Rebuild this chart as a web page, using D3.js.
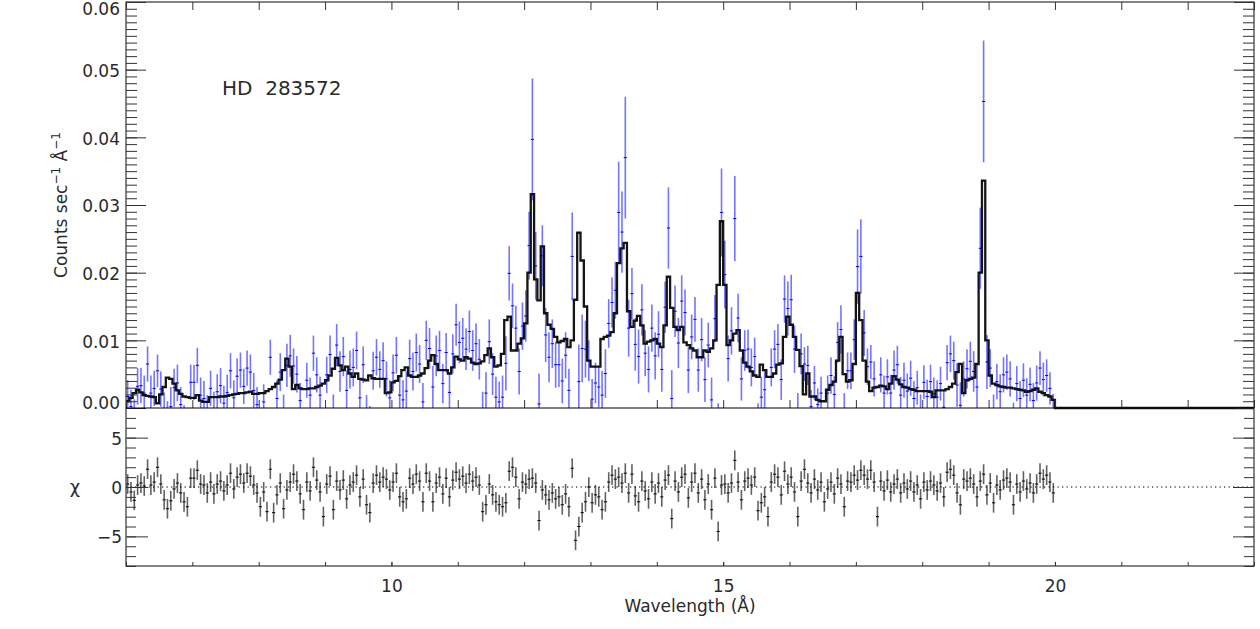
<!DOCTYPE html>
<html>
<head>
<meta charset="utf-8">
<script src="https://cdn.jsdelivr.net/npm/d3@7"></script>
<style>
  html, body { margin: 0; padding: 0; background: #fff; }
  svg text { font-family: "DejaVu Sans", sans-serif; fill: #2a2a2a; }
</style>
</head>
<body>
<svg id="chart" width="1260" height="629"></svg>
<script>
// ---------------- DATA ----------------
// wavelength bin centres (Angstrom)
const wavelength = [
 6.025,6.075,6.125,6.175,6.225,6.275,6.325,6.375,6.425,6.475,6.525,6.575,6.625,6.675,6.725,6.775,6.825,6.875,6.925,6.975,
 7.025,7.075,7.125,7.175,7.225,7.275,7.325,7.375,7.425,7.475,7.525,7.575,7.625,7.675,7.725,7.775,7.825,7.875,7.925,7.975,
 8.025,8.075,8.125,8.175,8.225,8.275,8.325,8.375,8.425,8.475,8.525,8.575,8.625,8.675,8.725,8.775,8.825,8.875,8.925,8.975,
 9.025,9.075,9.125,9.175,9.225,9.275,9.325,9.375,9.425,9.475,9.525,9.575,9.625,9.675,9.725,9.775,9.825,9.875,9.925,9.975,
 10.025,10.075,10.125,10.175,10.225,10.275,10.325,10.375,10.425,10.475,10.525,10.575,10.625,10.675,10.725,10.775,10.825,10.875,10.925,10.975,
 11.025,11.075,11.125,11.175,11.225,11.275,11.325,11.375,11.425,11.475,11.525,11.575,11.625,11.675,11.725,11.775,11.825,11.875,11.925,11.975,
 12.025,12.075,12.125,12.175,12.225,12.275,12.325,12.375,12.425,12.475,12.525,12.575,12.625,12.675,12.725,12.775,12.825,12.875,12.925,12.975,
 13.025,13.075,13.125,13.175,13.225,13.275,13.325,13.375,13.425,13.475,13.525,13.575,13.625,13.675,13.725,13.775,13.825,13.875,13.925,13.975,
 14.025,14.075,14.125,14.175,14.225,14.275,14.325,14.375,14.425,14.475,14.525,14.575,14.625,14.675,14.725,14.775,14.825,14.875,14.925,14.975,
 15.025,15.075,15.125,15.175,15.225,15.275,15.325,15.375,15.425,15.475,15.525,15.575,15.625,15.675,15.725,15.775,15.825,15.875,15.925,15.975,
 16.025,16.075,16.125,16.175,16.225,16.275,16.325,16.375,16.425,16.475,16.525,16.575,16.625,16.675,16.725,16.775,16.825,16.875,16.925,16.975,
 17.025,17.075,17.125,17.175,17.225,17.275,17.325,17.375,17.425,17.475,17.525,17.575,17.625,17.675,17.725,17.775,17.825,17.875,17.925,17.975,
 18.025,18.075,18.125,18.175,18.225,18.275,18.325,18.375,18.425,18.475,18.525,18.575,18.625,18.675,18.725,18.775,18.825,18.875,18.925,18.975,
 19.025,19.075,19.125,19.175,19.225,19.275,19.325,19.375,19.425,19.475,19.525,19.575,19.625,19.675,19.725,19.775,19.825,19.875,19.925,19.975
];

// observed flux, in units of 1e-3 counts s^-1 A^-1
const flux = [
 1.7,0.2,-1.3,3.2,3.3,2.2,6.5,2.2,2.9,5.5,2.8,-0.4,-1.9,0.2,3.0,3.7,0.5,-2.2,-3.6,3.8,
 3.8,6.3,1.9,1.4,-0.7,2.9,-0.2,2.4,3.3,0.7,2.3,5.5,1.5,4.7,5.6,3.2,5.9,5.3,2.6,0.5,
 -3.0,0.9,-4.0,7.5,-3.9,1.4,5.3,-1.0,6.3,7.7,6.2,5.0,1.1,-3.2,4.1,1.9,8.1,4.9,1.9,-4.5,
 4.9,7.9,-0.9,9.3,5.4,7.6,2.6,5.7,6.0,8.5,1.5,6.4,-0.8,-2.5,5.5,7.5,5.7,7.0,4.3,1.5,
 5.2,7.8,1.9,1.2,2.5,7.3,5.4,8.2,6.5,0.9,10.0,8.8,3.1,7.7,8.5,3.6,8.2,2.3,8.0,12.3,
 9.7,10.3,8.7,11.3,8.5,9.5,7.2,-0.6,2.2,9.8,5.0,1.6,0.9,1.6,6.6,19.9,15.1,11.8,5.4,12.1,
 13.6,24.0,39.7,21.0,0.6,22.5,10.8,7.5,9.5,6.4,6.4,4.0,7.8,2.6,22.4,-6.7,3.9,8.8,8.7,7.0,
 1.3,3.7,3.1,1.9,5.1,12.5,15.6,17.4,28.9,26.0,37.0,11.8,16.9,9.4,7.6,14.5,8.1,5.7,11.8,7.7,
 10.9,5.7,14.9,26.6,1.4,14.3,9.6,15.8,14.1,5.6,10.5,13.1,5.6,10.1,4.2,9.3,1.2,13.2,-4.3,28.9,
 19.7,7.3,11.4,28.0,13.3,4.3,8.5,8.7,6.0,7.6,-2.1,1.6,2.7,-3.8,6.0,8.7,9.4,4.2,16.1,14.7,
 16.0,8.7,-1.0,8.0,6.5,6.3,0.2,3.7,0.5,2.2,-2.6,2.2,4.8,2.0,9.7,11.6,-0.6,5.5,5.5,10.1,
 20.9,22.4,11.1,6.1,6.8,4.3,-4.7,4.9,2.2,4.6,2.2,5.6,6.4,1.9,4.1,2.5,4.4,1.4,3.0,-0.5,
 3.8,1.7,3.9,2.1,1.6,3.6,0.1,6.7,8.0,7.0,3.4,0.4,4.3,5.8,6.9,5.4,3.1,23.6,45.3,6.8,
 5.9,-0.7,3.9,2.4,4.9,5.3,4.3,-1.8,3.6,1.4,4.1,1.9,3.5,1.1,3.7,5.9,4.2,4.8,2.9,-0.2
];

// 1-sigma flux error, same units
const fluxErr = [
 2.4,2.5,2.6,2.7,2.6,2.6,2.6,2.6,2.6,2.4,2.6,2.7,2.9,2.9,2.8,2.7,2.6,2.6,2.6,2.6,
 2.6,2.6,2.6,2.6,2.6,2.6,2.6,2.6,2.6,2.6,2.6,2.6,2.6,2.6,2.6,2.6,2.6,2.6,2.6,2.6,
 2.6,2.6,2.6,2.6,2.7,2.7,2.8,3.0,3.2,3.1,2.6,2.7,2.6,2.6,2.6,2.6,2.6,2.6,2.7,2.7,
 2.7,2.8,2.9,3.1,3.0,2.9,2.9,2.8,2.8,2.8,2.8,2.7,2.7,2.8,2.8,2.7,2.7,2.7,2.6,2.6,
 2.7,2.7,2.8,2.9,2.9,2.8,2.8,2.8,2.8,2.8,2.9,3.0,3.1,3.0,2.9,2.9,2.9,2.8,2.9,3.1,
 3.1,3.0,3.1,3.1,3.0,3.0,3.0,3.0,3.1,3.3,3.1,3.0,3.0,3.2,4.0,4.0,3.3,3.3,3.4,3.5,
 3.8,5.0,9.0,5.0,4.5,4.5,4.0,3.7,3.6,3.4,3.3,3.3,3.4,3.2,6.5,4.2,5.5,5.0,4.2,3.0,
 3.0,3.0,3.0,3.6,3.6,3.6,3.7,4.2,7.5,6.0,9.0,4.2,3.8,3.9,4.0,3.8,3.4,3.4,3.5,3.5,
 3.4,3.3,3.8,6.0,4.2,3.8,3.7,3.8,3.4,3.4,3.3,3.3,3.2,3.2,3.3,3.3,3.3,3.5,5.0,6.5,
 5.0,3.4,3.5,6.3,3.6,3.2,3.0,2.9,2.8,2.8,2.8,3.0,2.9,2.8,2.8,2.8,3.0,3.0,3.5,4.0,
 3.7,3.5,3.2,3.0,2.5,2.9,2.5,2.5,2.4,2.4,2.4,2.6,2.7,2.7,3.0,3.6,2.8,2.7,2.7,3.0,
 5.5,5.5,3.4,2.7,2.5,2.6,2.6,2.6,2.6,2.6,2.7,2.9,2.8,2.7,2.6,2.6,2.6,2.6,2.5,2.5,
 2.5,2.5,2.5,2.4,2.5,2.5,2.5,2.6,2.7,2.8,3.2,3.4,2.6,2.9,2.9,3.0,3.4,6.0,9.0,4.0,
 2.8,2.7,2.6,2.6,2.6,2.6,2.6,2.6,2.6,2.6,2.5,2.5,2.5,2.6,2.6,2.5,2.5,2.4,2.4,2.3
];

// best-fit model (histogram), same units
const model = [
 1.0,1.5,2.2,2.7,2.3,1.9,1.8,1.7,1.6,0.7,2.0,3.1,4.5,4.3,3.6,2.6,2.1,1.7,1.6,1.5,
 1.5,1.9,1.1,0.9,0.9,1.6,1.6,1.6,1.7,1.7,1.8,1.9,2.0,2.1,2.2,2.2,2.3,2.4,2.1,2.1,
 2.2,2.2,2.5,2.8,3.1,3.6,4.2,5.6,7.3,6.1,2.8,3.4,2.9,2.8,2.8,2.9,2.9,3.1,3.3,3.6,
 4.1,4.8,5.8,7.4,6.3,5.6,6.1,5.1,4.6,5.1,4.3,4.2,4.1,4.8,4.4,4.3,4.3,4.3,2.2,2.3,
 3.8,4.0,4.7,5.6,6.0,4.8,4.6,4.6,4.8,5.1,5.9,7.0,7.8,6.5,5.6,5.6,5.6,5.1,6.0,7.6,
 7.2,7.0,7.5,7.3,6.7,6.5,6.6,6.9,7.8,8.8,7.5,6.1,6.3,8.0,13.0,13.5,8.5,8.5,9.5,10.3,
 12.5,20.0,31.6,19.0,15.9,23.9,14.0,12.3,11.7,10.5,9.7,9.9,10.2,9.0,10.0,16.0,25.9,21.8,15.0,7.0,
 6.1,6.1,6.1,10.2,10.5,10.7,11.2,14.0,21.4,23.6,24.4,14.3,12.0,12.9,13.6,12.2,9.5,9.8,10.0,10.2,
 9.5,9.0,12.2,19.4,14.8,12.0,11.5,12.0,9.7,9.3,8.8,8.5,7.5,7.5,8.5,8.3,8.8,10.0,18.2,27.6,
 18.2,9.3,10.0,11.0,11.5,8.5,6.7,6.1,5.4,4.8,4.6,6.4,5.6,4.6,4.6,5.1,6.4,6.6,10.5,13.5,
 12.3,10.5,8.6,6.2,2.0,5.1,1.7,1.7,1.2,1.0,1.0,2.7,3.4,3.9,7.0,10.5,5.0,3.9,4.1,6.5,
 17.0,13.0,7.0,3.9,2.5,3.0,3.1,3.3,3.2,2.8,3.6,4.7,4.2,3.5,3.1,3.0,2.8,2.7,2.5,2.5,
 2.5,2.5,2.4,1.6,2.6,2.6,2.6,2.8,3.1,3.6,5.3,6.5,2.2,4.1,4.3,4.5,6.5,20.0,33.6,10.0,
 4.8,3.6,3.4,3.2,3.1,3.0,3.0,2.9,2.8,2.7,2.6,2.4,2.5,2.7,2.9,2.4,2.2,1.9,1.7,1.2
];
// model beyond the fitted range
const modelTailWavelength = [20, 23];
const modelTail = [0, 0];

// residuals (chi)
const chi = [
 0.3,-0.5,-1.35,0.2,0.4,0.1,1.8,0.2,0.5,2.0,0.3,-1.3,-2.2,-1.4,-0.2,0.4,-0.6,-1.5,-2.0,0.9,
 0.9,1.7,0.3,0.2,-0.6,0.5,-0.7,0.3,0.6,-0.4,0.2,1.4,-0.2,1.0,1.3,0.4,1.4,1.1,0.2,-0.6,
 -2.0,-0.5,-2.5,1.8,-2.6,-0.8,0.4,-2.2,-0.3,0.5,1.3,0.6,-0.7,-2.3,0.5,-0.4,2.0,0.7,-0.5,-3.0,
 0.3,1.1,-2.3,0.6,-0.3,0.7,-1.2,0.2,0.5,1.2,-1.0,0.8,-1.8,-2.6,0.4,1.2,0.5,1.0,0.8,-0.3,
 0.5,1.4,-1.0,-1.5,-1.2,0.9,0.3,1.3,0.6,-1.5,1.4,0.6,-1.5,0.4,1.0,-0.7,0.9,-1.0,0.7,1.5,
 0.8,1.1,0.4,1.3,0.6,1.0,0.2,-2.5,-1.8,0.3,-0.8,-1.5,-1.8,-2.0,-1.6,1.6,2.0,1.0,-1.2,0.5,
 0.3,0.8,0.9,0.4,-3.4,-0.3,-0.8,-1.3,-0.6,-1.2,-1.0,-1.8,-0.7,-2.0,1.9,-5.4,-4.0,-2.6,-1.5,0.0,
 -1.6,-0.8,-1.0,-2.3,-1.5,0.5,1.2,0.8,1.0,0.4,1.4,-0.6,1.3,-0.9,-1.5,0.6,-0.4,-1.2,0.5,-0.7,
 0.4,-1.0,0.7,1.2,-3.2,0.6,-0.5,1.0,1.3,-1.1,0.5,1.4,-0.6,0.8,-1.3,0.3,-2.3,0.9,-4.5,0.2,
 0.3,-0.6,0.4,2.7,0.5,-1.3,0.6,0.9,0.2,1.0,-2.4,-1.6,-1.0,-3.0,0.5,1.3,1.0,-0.8,1.6,0.3,
 1.0,-0.5,-3.0,0.6,1.8,0.4,-0.6,0.8,-0.3,0.5,-1.5,-0.2,0.5,-0.7,0.9,0.3,-2.0,0.6,0.5,1.2,
 0.7,1.7,1.2,0.8,1.7,0.5,-3.0,0.6,-0.4,0.7,-0.5,0.3,0.8,-0.6,0.4,-0.2,0.6,-0.5,0.2,-1.2,
 0.5,-0.3,0.6,0.2,-0.4,0.4,-1.0,1.5,1.8,1.2,-0.6,-1.8,0.8,0.6,0.9,0.3,-1.0,0.6,1.3,-0.8,
 0.4,-1.6,0.2,-0.3,0.7,0.9,0.5,-1.8,0.3,-0.5,0.6,-0.2,0.4,-0.6,0.3,1.4,0.8,1.2,0.5,-0.6
];

// ticks and labels
const fluxTicks = [0, 10, 20, 30, 40, 50, 60];
const fluxTickLabels = ["0.00", "0.01", "0.02", "0.03", "0.04", "0.05", "0.06"];
const chiTicks = [-5, 0, 5];
const chiTickLabels = ["\u22125", "0", "5"];
const waveTicks = [10, 15, 20];
const waveTickLabels = ["10", "15", "20"];
const starName = "HD\u00a0 283572";

// ---------------- LAYOUT ----------------
const L = 126, R = 1254, T = 2, MID = 408, B = 566;
const svg = d3.select("#chart");
svg.append("rect").attr("width", 1260).attr("height", 629).attr("fill", "#fff");

const x = d3.scaleLinear().domain([6, 23]).range([L, R]);
const yTop = d3.scaleLinear().domain([0, 60]).range([MID, T]);
const yBot = d3.scaleLinear().domain([-8, 8]).range([B, MID]);

const defs = svg.append("defs");
defs.append("clipPath").attr("id", "clipTop").append("rect")
  .attr("x", L).attr("y", T).attr("width", R - L).attr("height", MID - T);
defs.append("clipPath").attr("id", "clipBot").append("rect")
  .attr("x", L).attr("y", MID).attr("width", R - L).attr("height", B - MID);

const n = wavelength.length;
const lo = wavelength.map((w, i) => i > 0 ? (w + wavelength[i - 1]) / 2 : w - (wavelength[1] - wavelength[0]) / 2);
const hi = wavelength.map((w, i) => i < n - 1 ? (w + wavelength[i + 1]) / 2 : w + (wavelength[n - 1] - wavelength[n - 2]) / 2);
const data = wavelength.map((w, i) => ({ w, f: flux[i], e: fluxErr[i], m: model[i], c: chi[i], lo: lo[i], hi: hi[i] }));

// ---------------- TOP PANEL ----------------
const gTop = svg.append("g").attr("clip-path", "url(#clipTop)");
const gData = gTop.append("g");
gData.selectAll("line.err").data(data).join("line")
  .attr("class", "err")
  .attr("x1", d => x(d.w)).attr("x2", d => x(d.w))
  .attr("y1", d => yTop(d.f - d.e)).attr("y2", d => yTop(d.f + d.e))
  .attr("stroke", "#1f1fff").attr("stroke-opacity", 0.62).attr("stroke-width", 1.6);
gData.selectAll("line.pt").data(data).join("line")
  .attr("class", "pt")
  .attr("x1", d => x(d.w) - 1.6).attr("x2", d => x(d.w) + 1.6)
  .attr("y1", d => yTop(d.f)).attr("y2", d => yTop(d.f))
  .attr("stroke", "#0000ff").attr("stroke-width", 1);

const modelPts = [];
data.forEach(d => { modelPts.push([d.lo, d.m]); modelPts.push([d.hi, d.m]); });
modelTailWavelength.forEach((w, i) => modelPts.push([w, modelTail[i]]));
const line = d3.line().x(p => x(p[0])).y(p => yTop(p[1]));
svg.append("path").datum(modelPts)
  .attr("d", line).attr("fill", "none")
  .attr("stroke", "#000").attr("stroke-width", 2.3).attr("stroke-linejoin", "miter")
  .attr("stroke-opacity", 0.92);

// ---------------- BOTTOM PANEL ----------------
const gBot = svg.append("g").attr("clip-path", "url(#clipBot)");
gBot.append("path").datum([6, 23])
  .attr("d", d3.line().x(v => x(v)).y(() => yBot(0)))
  .attr("stroke", "#000").attr("stroke-width", 1.2).attr("stroke-dasharray", "1.3,3.2");
gBot.selectAll("line.rerr").data(data).join("line")
  .attr("class", "rerr")
  .attr("x1", d => x(d.w)).attr("x2", d => x(d.w))
  .attr("y1", d => yBot(d.c - 1)).attr("y2", d => yBot(d.c + 1))
  .attr("stroke", "#000").attr("stroke-opacity", 0.62).attr("stroke-width", 1.6);
gBot.selectAll("line.rpt").data(data).join("line")
  .attr("class", "rpt")
  .attr("x1", d => x(d.w) - 1.6).attr("x2", d => x(d.w) + 1.6)
  .attr("y1", d => yBot(d.c)).attr("y2", d => yBot(d.c))
  .attr("stroke", "#000").attr("stroke-width", 1);

// ---------------- AXES ----------------
function style(g) {
  g.select(".domain").remove();
  g.attr("font-family", "DejaVu Sans").attr("font-size", 17).attr("color", "#333");
  g.selectAll(".tick line").attr("stroke-width", 1);
}
// top panel y
svg.append("g").attr("transform", `translate(${L},0)`)
  .call(d3.axisLeft(yTop).ticks(60).tickSize(-11).tickFormat("")).call(style);
svg.append("g").attr("transform", `translate(${L},0)`)
  .call(d3.axisLeft(yTop).tickValues(fluxTicks).tickSize(-20).tickPadding(6)
    .tickFormat((d, i) => fluxTickLabels[i])).call(style)
  .call(g => g.selectAll(".tick text").attr("fill", "#2a2a2a")
    .attr("y", d => Math.max(9, Math.min(403, yTop(d) + 1.5)) - yTop(d)));
svg.append("g").attr("transform", `translate(${R},0)`)
  .call(d3.axisRight(yTop).ticks(60).tickSize(-11).tickFormat("")).call(style);
svg.append("g").attr("transform", `translate(${R},0)`)
  .call(d3.axisRight(yTop).tickValues(fluxTicks).tickSize(-20).tickFormat("")).call(style);
// top panel x (top and bottom edges)
svg.append("g").attr("transform", `translate(0,${T})`)
  .call(d3.axisTop(x).ticks(17).tickSize(-8).tickFormat("")).call(style);
svg.append("g").attr("transform", `translate(0,${MID})`)
  .call(d3.axisBottom(x).ticks(17).tickSize(-8).tickFormat("")).call(style);

// bottom panel y
svg.append("g").attr("transform", `translate(${L},0)`)
  .call(d3.axisLeft(yBot).ticks(16).tickSize(-10).tickFormat("")).call(style);
svg.append("g").attr("transform", `translate(${L + 1},0)`)
  .call(d3.axisLeft(yBot).tickValues(chiTicks).tickSize(-21).tickPadding(5)
    .tickFormat((d, i) => chiTickLabels[i])).call(style)
  .call(g => g.selectAll(".tick text").attr("fill", "#2a2a2a").attr("y", 1));
svg.append("g").attr("transform", `translate(${R},0)`)
  .call(d3.axisRight(yBot).ticks(16).tickSize(-10).tickFormat("")).call(style);
svg.append("g").attr("transform", `translate(${R},0)`)
  .call(d3.axisRight(yBot).tickValues(chiTicks).tickSize(-21).tickFormat("")).call(style);
// bottom panel x
svg.append("g").attr("transform", `translate(0,${B})`)
  .call(d3.axisBottom(x).ticks(17).tickSize(-4).tickFormat("")).call(style);
svg.append("g").attr("transform", `translate(0,${B})`)
  .call(d3.axisBottom(x).tickValues(waveTicks).tickSize(-4).tickPadding(14)
    .tickFormat((d, i) => waveTickLabels[i])).call(style)
  .call(g => g.selectAll(".tick text").attr("fill", "#2a2a2a"));

// frames
const frame = svg.append("g").attr("fill", "none").attr("stroke", "#333").attr("stroke-width", 1.2);
frame.append("rect").attr("x", L).attr("y", T).attr("width", R - L).attr("height", B - T);
frame.append("line").attr("x1", L).attr("x2", R).attr("y1", MID).attr("y2", MID).attr("stroke", "#000");

// ---------------- TEXT ----------------
svg.append("text").attr("x", 222).attr("y", 95).attr("font-size", 20)
  .style("white-space", "pre").text(starName);

const yt = svg.append("text").attr("transform", "translate(67,205) rotate(-90)")
  .attr("text-anchor", "middle").attr("font-size", 17);
yt.append("tspan").text("Counts sec");
yt.append("tspan").attr("font-size", 12).attr("dy", -7).text("\u22121");
yt.append("tspan").attr("dy", 7).text(" \u00c5");
yt.append("tspan").attr("font-size", 12).attr("dy", -7).text("\u22121");

svg.append("text").attr("x", 75).attr("y", 493).attr("text-anchor", "middle")
  .attr("font-size", 18).text("\u03c7");

svg.append("text").attr("x", (L + R) / 2).attr("y", 612).attr("text-anchor", "middle")
  .attr("font-size", 17).text("Wavelength (\u00c5)");
</script>
</body>
</html>
